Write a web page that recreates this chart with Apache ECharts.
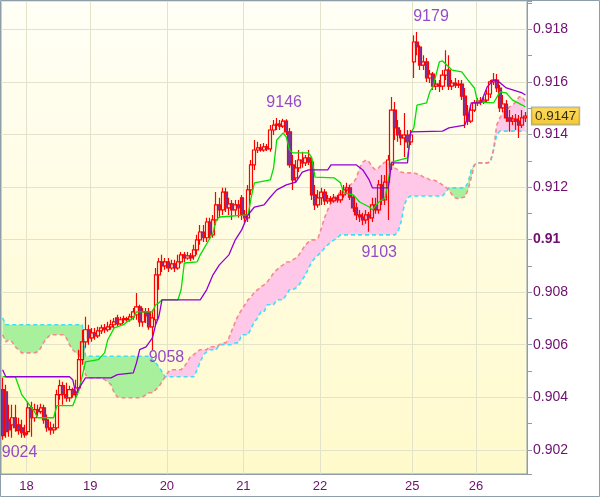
<!DOCTYPE html>
<html><head><meta charset="utf-8">
<script src="https://cdn.jsdelivr.net/npm/echarts@6/dist/echarts.min.js"></script>
<style>html,body{margin:0;padding:0;background:#fff}#c{width:600px;height:497px}</style>
</head><body><div id="c"></div>
<script>
// [open, close, low, high] hourly candles
const candles = [
[.90429,.90254,.90238,.90474],[.90421,.90269,.90246,.90448],[.90314,.90276,.90250,.90372],[.90295,.90322,.90246,.90372],[.90322,.90284,.90269,.90372],
[.90295,.90273,.90257,.90322],[.90284,.90265,.90246,.90314],[.90265,.90257,.90246,.90295],[.90269,.90360,.90257,.90383],[.90360,.90322,.90250,.90383],
[.90322,.90353,.90307,.90375],[.90353,.90345,.90330,.90372],[.90345,.90360,.90337,.90375],[.90360,.90314,.90299,.90372],[.90314,.90284,.90269,.90334],
[.90284,.90276,.90257,.90307],[.90276,.90284,.90261,.90299],[.90284,.90410,.90276,.90429],[.90410,.90444,.90391,.90467],[.90444,.90410,.90372,.90459],
[.90410,.90398,.90383,.90455],[.90398,.90429,.90383,.90444],[.90429,.90410,.90398,.90436],[.90410,.90436,.90398,.90467],[.90436,.90543,.90421,.90581],
[.90543,.90611,.90524,.90657],[.90611,.90657,.90588,.90706],[.90657,.90626,.90600,.90676],[.90626,.90645,.90611,.90664],[.90645,.90634,.90619,.90664],
[.90634,.90653,.90626,.90668],[.90653,.90664,.90641,.90676],[.90664,.90657,.90645,.90679],[.90657,.90668,.90649,.90687],[.90668,.90676,.90657,.90695],
[.90676,.90687,.90664,.90702],[.90702,.90679,.90668,.90714],[.90679,.90695,.90672,.90706],[.90695,.90699,.90683,.90710],[.90699,.90695,.90687,.90706],
[.90695,.90706,.90687,.90718],[.90706,.90725,.90695,.90740],[.90714,.90744,.90695,.90797],[.90744,.90687,.90668,.90752],[.90687,.90725,.90668,.90740],
[.90725,.90710,.90683,.90740],[.90725,.90668,.90657,.90740],[.90668,.90702,.90580,.90733],[.90695,.90866,.90676,.90892],[.90866,.90915,.90809,.90930],
[.90915,.90900,.90877,.90942],[.90900,.90915,.90885,.90930],[.90915,.90892,.90877,.90930],[.90892,.90908,.90885,.90923],[.90908,.90892,.90877,.90923],
[.90892,.90915,.90885,.90942],[.90915,.90942,.90908,.90953],[.90942,.90930,.90915,.90953],[.90930,.90938,.90923,.90953],[.90938,.90930,.90919,.90949],
[.90938,.90961,.90923,.90980],[.90961,.90999,.90942,.91018],[.90999,.91029,.90980,.91056],[.91029,.91007,.90991,.91056],[.91007,.91067,.90991,.91083],
[.91067,.91018,.90999,.91083],[.91018,.91075,.91007,.91094],[.91075,.91132,.91056,.91181],[.91132,.91113,.91083,.91159],[.91113,.91181,.91094,.91197],
[.91181,.91121,.91105,.91197],[.91121,.91136,.91094,.91159],[.91136,.91113,.91075,.91151],[.91113,.91132,.91094,.91151],[.91132,.91121,.91083,.91151],
[.91159,.91094,.91075,.91170],[.91094,.91083,.91067,.91113],[.91083,.91189,.91067,.91208],[.91189,.91284,.91170,.91303],[.91284,.91341,.91265,.91379],
[.91341,.91349,.91330,.91372],[.91349,.91341,.91334,.91364],[.91341,.91353,.91334,.91368],[.91353,.91345,.91337,.91364],[.91345,.91417,.91334,.91436],
[.91417,.91436,.91398,.91455],[.91436,.91440,.91417,.91463],[.91440,.91432,.91417,.91455],[.91432,.91451,.91425,.91460],[.91451,.91410,.91398,.91458],
[.91410,.91284,.91273,.91425],[.91284,.91227,.91189,.91322],[.91235,.91273,.91219,.91303],[.91273,.91303,.91257,.91341],[.91303,.91292,.91273,.91334],
[.91292,.91311,.91280,.91322],[.91311,.91295,.91284,.91341],[.91295,.91170,.91151,.91311],[.91170,.91132,.91113,.91208],[.91132,.91159,.91121,.91189],
[.91159,.91181,.91132,.91197],[.91181,.91147,.91132,.91193],[.91147,.91155,.91136,.91170],[.91155,.91147,.91136,.91166],[.91147,.91159,.91140,.91174],
[.91159,.91151,.91140,.91170],[.91151,.91170,.91140,.91189],[.91170,.91189,.91159,.91208],[.91189,.91197,.91178,.91216],[.91197,.91162,.91151,.91208],
[.91162,.91121,.91105,.91170],[.91121,.91094,.91075,.91140],[.91094,.91086,.91067,.91113],[.91086,.91075,.91056,.91102],[.91075,.91094,.91060,.91113],
[.91094,.91083,.91030,.91105],[.91083,.91132,.91067,.91159],[.91132,.91113,.91098,.91159],[.91113,.91208,.91098,.91227],[.91208,.91151,.91132,.91246],
[.91151,.91219,.91132,.91246],[.91219,.91303,.91075,.91322],[.91284,.91493,.91265,.91543],[.91493,.91425,.91379,.91524],[.91425,.91398,.91372,.91455],
[.91398,.91387,.91360,.91417],[.91387,.91398,.91314,.91482],[.91398,.91372,.91349,.91417],[.91372,.91398,.91360,.91417],[.91676,.91752,.91615,.91778],
[.91752,.91733,.91702,.91790],[.91733,.91664,.91645,.91740],[.91664,.91676,.91645,.91702],[.91676,.91615,.91600,.91691],[.91615,.91630,.91596,.91645],
[.91630,.91584,.91569,.91638],[.91584,.91592,.91569,.91607],[.91592,.91584,.91562,.91607],[.91584,.91626,.91569,.91645],[.91626,.91645,.91607,.91721],
[.91645,.91584,.91569,.91702],[.91584,.91596,.91569,.91607],[.91596,.91588,.91577,.91615],[.91588,.91592,.91577,.91607],[.91592,.91546,.91531,.91607],
[.91546,.91474,.91425,.91577],[.91474,.91451,.91436,.91512],[.91451,.91493,.91444,.91512],[.91493,.91520,.91486,.91531],[.91520,.91527,.91508,.91539],
[.91527,.91524,.91512,.91543],[.91524,.91531,.91516,.91543],[.91531,.91554,.91524,.91569],[.91554,.91600,.91539,.91607],[.91600,.91607,.91588,.91634],
[.91607,.91577,.91562,.91630],[.91577,.91501,.91486,.91588],[.91501,.91516,.91486,.91550],[.91516,.91463,.91448,.91531],[.91463,.91451,.91410,.91493],
[.91451,.91459,.91436,.91474],[.91459,.91451,.91417,.91478],[.91451,.91436,.91387,.91474],[.91436,.91463,.91425,.91493],[.91463,.91470,.91448,.91486]
];
// Senkou span A (cyan dashed), one value per candle
const senkouA = [
.90702,.90676,.90676,.90676,.90676,.90676,.90676,.90676,.90676,.90676,
.90676,.90676,.90676,.90676,.90676,.90676,.90676,.90676,.90676,.90676,
.90676,.90676,.90676,.90676,.90676,.90676,.90556,.90556,.90556,.90556,
.90556,.90556,.90556,.90556,.90556,.90556,.90556,.90556,.90556,.90556,
.90556,.90556,.90556,.90556,.90556,.90556,.90556,.90543,.90531,.90516,
.90497,.90478,.90478,.90478,.90478,.90478,.90478,.90478,.90478,.90478,
.90478,.90505,.90535,.90562,.90573,.90581,.90581,.90581,.90600,.90600,
.90600,.90600,.90600,.90607,.90607,.90638,.90638,.90638,.90664,.90687,
.90702,.90725,.90725,.90752,.90752,.90752,.90771,.90771,.90771,.90790,
.90809,.90809,.90816,.90828,.90847,.90866,.90892,.90915,.90930,.90942,
.90953,.90968,.90980,.90991,.90999,.91007,.91018,.91018,.91018,.91018,
.91018,.91018,.91018,.91018,.91018,.91018,.91018,.91018,.91018,.91018,
.91018,.91018,.91018,.91018,.91029,.91067,.91132,.91159,.91166,.91166,
.91166,.91166,.91166,.91166,.91166,.91166,.91166,.91166,.91166,.91181,
.91197,.91197,.91197,.91197,.91197,.91197,.91216,.91265,.91284,.91292,
.91292,.91292,.91292,.91295,.91341,.91398,.91413,.91413,.91413,.91413,
.91413,.91413,.91413,.91413,.91413
];
// Senkou span B (salmon dashed)
const senkouB = [
.90638,.90611,.90619,.90611,.90592,.90581,.90569,.90569,.90569,.90569,
.90569,.90573,.90588,.90611,.90626,.90638,.90638,.90638,.90638,.90638,
.90626,.90600,.90581,.90569,.90562,.90543,.90486,.90474,.90474,.90474,
.90474,.90474,.90467,.90459,.90448,.90417,.90402,.90398,.90398,.90398,
.90398,.90398,.90398,.90398,.90402,.90410,.90417,.90417,.90429,.90440,
.90459,.90478,.90497,.90505,.90505,.90505,.90505,.90516,.90535,.90556,
.90562,.90573,.90581,.90581,.90581,.90592,.90592,.90592,.90600,.90607,
.90607,.90626,.90657,.90687,.90714,.90733,.90752,.90771,.90782,.90801,
.90809,.90820,.90828,.90839,.90854,.90873,.90885,.90896,.90904,.90915,
.90915,.90923,.90930,.90942,.90961,.90980,.90991,.90999,.90999,.91007,
.91044,.91083,.91113,.91140,.91159,.91170,.91181,.91197,.91200,.91208,
.91216,.91235,.91273,.91295,.91303,.91295,.91276,.91265,.91273,.91288,
.91295,.91292,.91284,.91273,.91265,.91257,.91254,.91254,.91254,.91254,
.91250,.91246,.91238,.91235,.91227,.91227,.91223,.91216,.91208,.91200,
.91189,.91170,.91159,.91155,.91159,.91162,.91189,.91235,.91284,.91292,
.91292,.91292,.91292,.91295,.91341,.91436,.91463,.91486,.91493,.91505,
.91512,.91524,.91543,.91543,.91524
];
// Tenkan-sen (green) turning points [candle index, value]
const tenkan = [
[0,.90478],[4,.90478],[6,.90410],[10,.90345],[11,.90322],[16,.90322],[17,.90368],[22,.90368],[24,.90429],[26,.90535],
[30,.90543],[32,.90569],[33,.90619],[35,.90664],[38,.90676],[39,.90687],[41,.90702],[42,.90725],[47,.90725],[48,.90752],
[49,.90759],[50,.90771],[55,.90771],[56,.90809],[57,.90911],[61,.90915],[62,.90942],[66,.91025],[67,.91075],[68,.91086],
[77,.91094],[78,.91162],[79,.91216],[84,.91227],[85,.91273],[86,.91379],[88,.91406],[89,.91390],[90,.91341],[91,.91330],
[96,.91330],[97,.91311],[98,.91238],[104,.91235],[106,.91216],[107,.91178],[110,.91170],[112,.91143],[115,.91124],[116,.91113],
[118,.91143],[120,.91159],[122,.91295],[127,.91311],[128,.91406],[129,.91425],[130,.91512],[133,.91520],[134,.91562],[135,.91581],
[137,.91676],[138,.91680],[140,.91657],[141,.91645],[144,.91638],[146,.91607],[148,.91577],[149,.91524],[154,.91520],[156,.91562],
[158,.91558],[160,.91531],[163,.91512],[164,.91505]
];
// Kijun-sen (purple) turning points
const kijun = [
[0,.90505],[1,.90478],[21,.90478],[22,.90467],[23,.90413],[24,.90436],[26,.90474],[34,.90474],[36,.90486],[41,.90493],
[42,.90531],[43,.90581],[45,.90592],[47,.90626],[48,.90676],[49,.90706],[50,.90771],[62,.90771],[64,.90809],[66,.90866],
[68,.90904],[71,.90942],[73,.90999],[75,.91037],[77,.91094],[79,.91124],[82,.91132],[84,.91162],[86,.91189],[89,.91208],
[92,.91219],[94,.91257],[96,.91265],[102,.91265],[103,.91284],[111,.91284],[113,.91265],[115,.91227],[116,.91197],[121,.91197],
[122,.91292],[127,.91292],[128,.91410],[138,.91413],[140,.91425],[145,.91436],[146,.91467],[147,.91520],[150,.91520],[152,.91581],
[154,.91607],[155,.91607],[158,.91577],[163,.91558],[164,.91550]
];
const dayTickIndex = [8, 28, 52, 76, 100, 129, 149];
const dayTickLabel = ['18', '19', '20', '21', '22', '25', '26'];
const extremeIndex = [0, 47, 88, 115, 130];
const extremeValue = [0.9024, 0.9058, 0.9146, 0.9103, 0.9179];
const lastPrice = 0.9147;

// ---- build ----
const cats = candles.map((_, i) => String(i));
const lastIndex = candles.length - 1;
const labelMap = {};
dayTickIndex.forEach((k, j) => { labelMap[k] = dayTickLabel[j]; });
const isTick = (i) => labelMap[i] !== undefined;
const cloudBase = senkouA.map((a, k) => Math.min(a, senkouB[k]));
const cloudGreen = senkouA.map((a, k) => a > senkouB[k] ? a - senkouB[k] : 0);
const cloudPink = senkouA.map((a, k) => senkouB[k] > a ? senkouB[k] - a : 0);
const labelOffsets = [[17, 13], [14, 8], [1, -16], [10, 21], [14, -15]];

const FONT = '"Liberation Sans", Arial, sans-serif';
const AX = '#8d9daa';
const TXT = '#6e0e6e';
const chart = echarts.init(document.getElementById('c'), null, { renderer: 'canvas' });
chart.setOption({
  animation: false,
  textStyle: { fontFamily: FONT },
  grid: {
    left: 1, top: 1, right: 73, bottom: 23, show: true, borderColor: AX, borderWidth: 1,
    backgroundColor: { type: 'linear', x: 0, y: 0, x2: 0, y2: 1,
      colorStops: [{ offset: 0, color: '#fffff6' }, { offset: 1, color: '#fffacb' }] }
  },
  xAxis: {
    type: 'category', data: cats, boundaryGap: true,
    axisLine: { lineStyle: { color: AX } },
    axisTick: { interval: isTick, length: 5, lineStyle: { color: AX } },
    axisLabel: {
      interval: isTick, margin: 6, color: TXT, fontSize: 13, fontFamily: FONT,
      formatter: (v, i) => '{a|' + (labelMap[i] || '') + '}',
      rich: { a: { padding: [0, 3, 0, 0], color: TXT, fontSize: 13, fontFamily: FONT } }
    },
    splitLine: { show: true, interval: isTick, lineStyle: { color: '#e3e3cb', width: 1 } }
  },
  yAxis: {
    type: 'value', position: 'right', min: 0.90108, max: 0.91908, splitNumber: 9, scale: true,
    axisLine: { show: true, lineStyle: { color: AX } },
    axisTick: { show: true, length: 5, lineStyle: { color: AX } },
    minorTick: { show: true, splitNumber: 2, length: 5, lineStyle: { color: AX } },
    axisLabel: {
      showMinLabel: false, showMaxLabel: false, margin: 6, color: TXT, fontSize: 14, fontFamily: FONT,
      formatter: (v) => {
        const s = String(+v.toFixed(4));
        return Math.abs(v - 0.91) < 1e-9 ? '{b|' + s + '}' : s;
      },
      rich: { b: { fontWeight: 'bold', color: TXT, fontSize: 14, fontFamily: FONT } }
    },
    splitLine: { show: true, lineStyle: { color: '#e3e3cb', width: 1 } }
  },
  series: [
    { type: 'line', data: cloudBase, stack: 'cloud', symbol: 'none', lineStyle: { width: 0, opacity: 0 }, z: 1, silent: true },
    { type: 'line', data: cloudGreen, stack: 'cloud', symbol: 'none', lineStyle: { width: 0, opacity: 0 },
      areaStyle: { color: '#a9f09c', opacity: 1 }, z: 1, silent: true },
    { type: 'line', data: cloudPink, stack: 'cloud', symbol: 'none', lineStyle: { width: 0, opacity: 0 },
      areaStyle: { color: '#ffc8e8', opacity: 1 }, z: 1, silent: true },
    { type: 'line', data: senkouA, symbol: 'none', z: 2, silent: true,
      lineStyle: { color: '#3fe0f5', width: 1.6, type: [4, 3] } },
    { type: 'line', data: senkouB, symbol: 'none', z: 2, silent: true,
      lineStyle: { color: '#f58a8a', width: 1.6, type: [4, 3] } },
    { type: 'candlestick', data: candles, barWidth: 3.6, z: 3,
      itemStyle: { color: 'rgba(0,0,0,0)', color0: '#7038a8', borderColor: '#ff0000', borderColor0: '#ff0000', borderWidth: 1.2 } },
    { type: 'line', data: tenkan, symbol: 'none', z: 4, silent: true, lineStyle: { color: '#00e000', width: 1.3 } },
    { type: 'line', data: kijun, symbol: 'none', z: 4, silent: true, lineStyle: { color: '#9400d3', width: 1.3 } },
    { type: 'scatter', symbolSize: 0, z: 5, silent: true,
      data: extremeIndex.map((i, k) => ({ value: [i, extremeValue[k]], label: { offset: labelOffsets[k] } })),
      label: { show: true, position: 'inside', color: '#7a1cc4', fontSize: 16, fontFamily: FONT,
        formatter: (p) => String(Math.round(p.value[1] * 10000)) } },
    { type: 'scatter', symbolSize: 0, z: 10, silent: true, clip: false,
      data: [[lastIndex, lastPrice]],
      label: { show: true, position: 'right', distance: 6.5, align: 'left', verticalAlign: 'middle',
        formatter: (p) => String(p.value[1]), color: '#000', fontSize: 13.5, fontFamily: FONT,
        backgroundColor: { type: 'linear', x: 0, y: 0, x2: 0, y2: 1,
          colorStops: [{ offset: 0, color: '#ffd43a' }, { offset: 1, color: '#f0b800' }] },
        borderColor: '#8a9aa8', borderWidth: 1, padding: [2, 3, 1, 3] } }
  ],
  graphic: [{ type: 'rect', shape: { x: 0.5, y: 0.5, width: 599, height: 496 },
    style: { fill: 'none', stroke: AX, lineWidth: 1 }, z: 100, silent: true }]
});
</script></body></html>
